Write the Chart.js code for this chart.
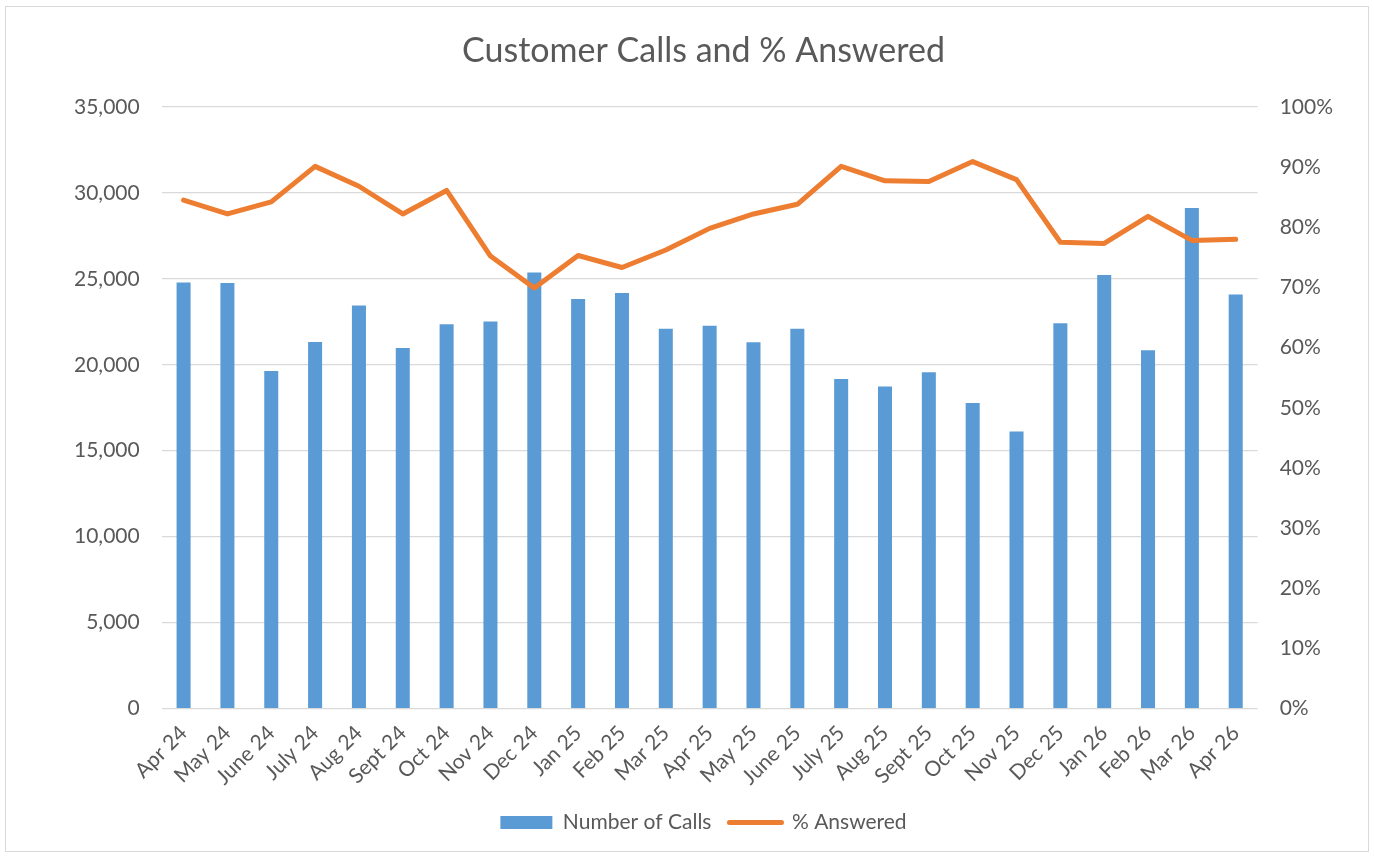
<!DOCTYPE html>
<html>
<head>
<meta charset="utf-8">
<script src="https://cdn.jsdelivr.net/npm/chart.js@4/dist/chart.umd.min.js"></script>
<style>
  html, body { margin: 0; padding: 0; background: #fff; }
  #box {
    position: absolute; left: 5px; top: 6px;
    width: 1364px; height: 846px;
    border: 1px solid #d9d9d9; box-sizing: border-box;
  }
</style>
</head>
<body>
<div id="box"><canvas id="chart"></canvas></div>
<script>
let months = ["Apr 24", "May 24", "June 24", "July 24", "Aug 24", "Sept 24", "Oct 24", "Nov 24", "Dec 24",
  "Jan 25", "Feb 25", "Mar 25", "Apr 25", "May 25", "June 25", "July 25", "Aug 25", "Sept 25", "Oct 25",
  "Nov 25", "Dec 25", "Jan 26", "Feb 26", "Mar 26", "Apr 26"];

let calls = [24790, 24750, 19640, 21330, 23450, 20980, 22360, 22520, 25360,
  23820, 24170, 22090, 22270, 21310, 22090, 19170, 18730, 19560, 17780,
  16120, 22420, 25220, 20850, 29110, 24090];

let answered = [84.5, 82.2, 84.2, 90.1, 86.8, 82.2, 86.1, 75.2, 69.9,
  75.3, 73.3, 76.2, 79.8, 82.2, 83.8, 90.1, 87.7, 87.6, 90.9,
  87.9, 77.5, 77.3, 81.8, 77.8, 78.0];

let textColor = "#595959";
let gridColor = "#d9d9d9";

Chart.defaults.font.family = "Lato, 'Open Sans', sans-serif";
Chart.defaults.color = textColor;

new Chart(document.getElementById("chart"), {
  type: "bar",
  data: {
    labels: months,
    datasets: [
      {
        label: "Number of Calls",
        data: calls,
        backgroundColor: "#5b9bd5",
        barPercentage: 0.32,
        categoryPercentage: 1,
        yAxisID: "y",
        order: 2,
      },
      {
        type: "line",
        label: "% Answered",
        data: answered,
        borderColor: "#ed7d31",
        backgroundColor: "#ed7d31",
        borderWidth: 5,
        borderCapStyle: "round",
        borderJoinStyle: "round",
        tension: 0,
        pointRadius: 0,
        yAxisID: "y1",
        order: 1,
      },
    ],
  },
  options: {
    responsive: true,
    maintainAspectRatio: false,
    animation: false,
    layout: {
      padding: { left: 46, right: 13, top: 22, bottom: 8 },
    },
    plugins: {
      title: {
        display: true,
        text: "Customer Calls and % Answered",
        font: { size: 34, weight: "normal" },
        color: textColor,
        padding: { top: 2, bottom: 35 },
      },
      legend: {
        display: true,
        position: "bottom",
        labels: {
          usePointStyle: true,
          pointStyleWidth: 52,
          boxHeight: 13,
          font: { size: 21 },
          padding: 18,
          sort: (a, b) => a.datasetIndex - b.datasetIndex,
          generateLabels: (chart) => {
            let items = Chart.defaults.plugins.legend.labels.generateLabels(chart);
            items.forEach((it) => {
              if (it.datasetIndex === 1) {
                it.pointStyle = "line";
                it.lineCap = "round";
                it.lineWidth = 5;
              } else {
                it.pointStyle = "rect";
                it.lineWidth = 0;
              }
            });
            return items;
          },
        },
      },
      tooltip: { enabled: false },
    },
    scales: {
      x: {
        grid: { display: false },
        border: { display: false },
        ticks: {
          font: { size: 21 },
          maxRotation: 45,
          minRotation: 45,
          autoSkip: false,
          padding: 4,
        },
      },
      y: {
        position: "left",
        min: 0,
        max: 35000,
        grid: { color: gridColor, lineWidth: 1.3, drawTicks: false },
        border: { display: false },
        ticks: {
          stepSize: 5000,
          font: { size: 21 },
          padding: 22,
          callback: (v) => v.toLocaleString("en-US"),
        },
      },
      y1: {
        position: "right",
        min: 0,
        max: 100,
        grid: { display: false, drawTicks: false },
        border: { display: false },
        ticks: {
          stepSize: 10,
          font: { size: 21 },
          padding: 22,
          callback: (v) => v + "%",
        },
      },
    },
  },
});
</script>
</body>
</html>
